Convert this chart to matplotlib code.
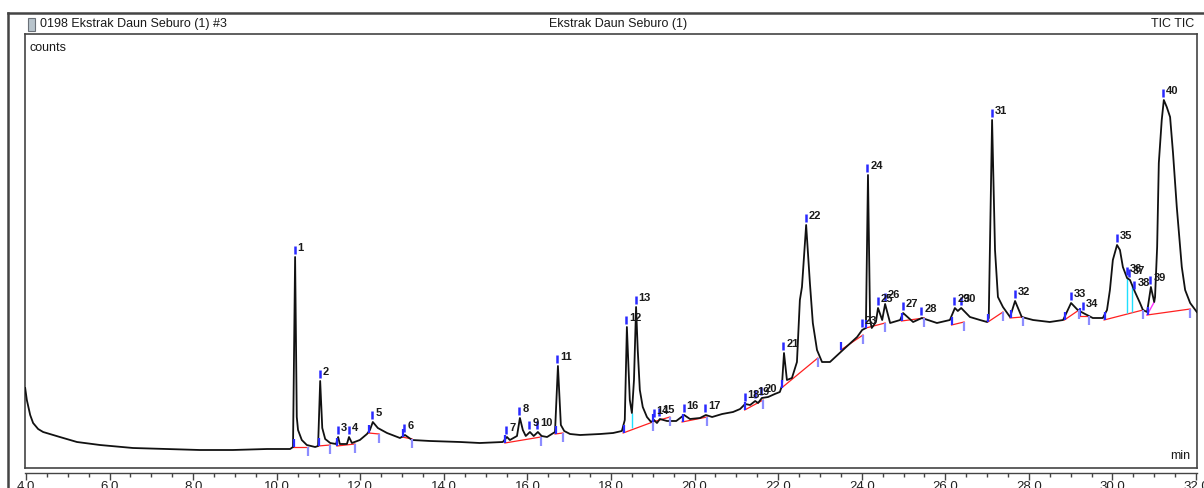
import matplotlib
matplotlib.use("Agg")
import matplotlib.pyplot as plt
from matplotlib.lines import Line2D
from matplotlib.patches import Rectangle

plt.rcParams['font.family'] = ['Liberation Sans', 'DejaVu Sans']

# ---- TIC trace (retention time in min, abundance in counts) ----
trace_t = [3.98, 4.02, 4.10, 4.17, 4.29, 4.41, 4.81, 5.22, 5.77, 6.56, 7.37, 8.16,
           8.95, 9.77, 10.32, 10.39, 10.44, 10.48, 10.51, 10.60, 10.72, 10.92, 10.99,
           11.04, 11.09, 11.16, 11.28, 11.42, 11.47, 11.51, 11.68, 11.73, 11.80, 11.99,
           12.16, 12.23, 12.30, 12.42, 12.64, 12.95, 13.07, 13.24, 13.67, 14.39, 14.86,
           15.41, 15.51, 15.58, 15.75, 15.82, 15.89, 15.96, 16.06, 16.15, 16.25, 16.34,
           16.47, 16.66, 16.73, 16.80, 16.88, 17.02, 17.26, 17.74, 18.05, 18.26, 18.33,
           18.38, 18.45, 18.50, 18.55, 18.60, 18.64, 18.69, 18.76, 18.86, 18.96, 19.03,
           19.10, 19.17, 19.34, 19.56, 19.75, 19.89, 20.13, 20.27, 20.42, 20.66, 20.92,
           21.09, 21.21, 21.33, 21.45, 21.52, 21.61, 21.76, 21.92, 22.04, 22.09, 22.14,
           22.21, 22.33, 22.45, 22.52, 22.57, 22.67, 22.76, 22.83, 22.93, 23.05, 23.24,
           23.55, 23.89, 24.01, 24.10, 24.15, 24.20, 24.24, 24.34, 24.39, 24.49, 24.56,
           24.68, 24.92, 24.99, 25.23, 25.44, 25.80, 26.11, 26.23, 26.30, 26.38, 26.59,
           26.83, 27.00, 27.04, 27.12, 27.19, 27.26, 27.38, 27.55, 27.67, 27.83, 28.10,
           28.50, 28.82, 29.01, 29.17, 29.30, 29.53, 29.77, 29.87, 29.94, 30.01, 30.11,
           30.18, 30.25, 30.35, 30.42, 30.47, 30.54, 30.66, 30.73, 30.83, 30.92, 31.00,
           31.02, 31.07, 31.11, 31.18, 31.23, 31.30, 31.38, 31.45, 31.54, 31.66, 31.74,
           31.86, 32.02]
trace_v = [80, 68, 53, 45, 39, 36, 31, 26, 23, 20, 19, 18,
           18, 19, 19, 21, 211, 51, 38, 28, 23, 21, 22,
           87, 40, 29, 25, 24, 31, 24, 24, 31, 25, 28,
           34, 38, 46, 40, 35, 30, 33, 28, 27, 26, 25,
           26, 31, 28, 32, 50, 38, 32, 36, 32, 36, 32,
           31, 36, 102, 43, 37, 34, 33, 34, 35, 37, 48,
           141, 68, 55, 88, 161, 118, 78, 61, 51, 46, 48,
           45, 49, 47, 47, 53, 49, 50, 53, 51, 54, 56,
           59, 64, 63, 67, 65, 70, 71, 74, 76, 82, 115,
           88, 90, 106, 168, 181, 243, 185, 145, 118, 106, 106,
           118, 131, 138, 140, 293, 148, 140, 146, 160, 148, 164,
           145, 148, 155, 146, 150, 145, 148, 160, 157, 160, 151,
           148, 146, 150, 348, 218, 171, 161, 151, 167, 151, 148,
           146, 148, 165, 158, 155, 150, 150, 158, 178, 208, 223,
           218, 201, 190, 188, 183, 176, 165, 158, 156, 181, 166,
           171, 221, 305, 348, 368, 361, 351, 315, 261, 201, 178,
           165, 156]

# ---- integrated peaks: number, apex time, apex counts ----
peak_num = list(range(1, 41))
peak_t = [10.44, 11.04, 11.47, 11.73, 12.30, 13.07, 15.51, 15.82, 16.06, 16.25,
          16.73, 18.38, 18.60, 19.03, 19.17, 19.75, 20.27, 21.21, 21.45, 21.61,
          22.14, 22.67, 24.01, 24.15, 24.39, 24.56, 24.99, 25.44, 26.23, 26.38,
          27.12, 27.67, 29.01, 29.30, 30.11, 30.35, 30.42, 30.54, 30.92, 31.23]
peak_v = [211, 87, 31, 31, 46, 33, 31, 50, 36, 36,
          102, 141, 161, 48, 49, 53, 53, 64, 67, 70,
          115, 243, 138, 293, 160, 164, 155, 150, 160, 160,
          348, 167, 165, 155, 223, 190, 188, 176, 181, 368]

# ---- integration baselines: start (t, v) -> end (t, v) ----
base_t0 = [10.39, 10.99, 11.44, 12.20, 13.00, 15.46, 16.66, 18.29, 19.00, 19.70,
           21.20, 22.08, 23.50, 24.10, 24.95, 26.15, 27.02, 27.55, 28.85, 29.20,
           29.80, 30.83]
base_v0 = [21, 22, 22, 35, 31, 25, 34, 35, 46, 46,
           58, 80, 118, 140, 147, 143, 146, 150, 148, 152,
           148, 153]
base_t1 = [10.75, 11.28, 11.87, 12.45, 13.24, 16.32, 16.85, 19.00, 19.41, 20.30,
           21.64, 22.95, 24.03, 24.56, 25.50, 26.45, 27.38, 27.85, 29.20, 29.45,
           30.73, 31.86]
base_v1 = [21, 23, 24, 34, 29, 31, 35, 46, 51, 51,
           68, 110, 133, 145, 150, 146, 156, 151, 158, 152,
           158, 159]

# perpendicular drops between co-eluting peaks: time, baseline counts, signal counts
drop_t = [18.50, 30.35, 30.47]
drop_lo = [40, 155, 156]
drop_hi = [55, 190, 183]

W, H = 1204, 488
PX_PER_MIN = 1170 / 28.0

fig = plt.figure(figsize=(W / 100, H / 100), dpi=100)

ax = fig.add_axes([25 / W, 1 - 468 / H, 1172 / W, 434 / H])
ax.set_xlim(4 - 1 / PX_PER_MIN, 32 + 1 / PX_PER_MIN)
ax.set_ylim(0, 434)
ax.set_xticks([])
ax.set_yticks([])
for s in ax.spines.values():
    s.set_color('#444444')
    s.set_linewidth(1.2)

# baselines and drop lines
for t0, v0, t1, v1 in zip(base_t0, base_v0, base_t1, base_v1):
    ax.plot([t0, t1], [v0, v1], color='#ff2020', lw=0.9, zorder=2)
ax.plot([base_t0[-1], 31.00], [base_v0[-1], 166], color='#ff30ff', lw=1.0, zorder=2)
ax.vlines(drop_t, drop_lo, drop_hi, color='#20e0ff', lw=1.0, zorder=2)

# chromatogram
ax.plot(trace_t, trace_v, color='#111111', lw=1.3, zorder=3)

# start / end markers of the integrations
dt = 0.5 / PX_PER_MIN
ax.vlines([t + dt for t in base_t0], base_v0, [v + 8 for v in base_v0],
          color='#2a2aff', lw=1.6, zorder=4)
ax.vlines([t for t in base_t1], [v - 9 for v in base_v1], base_v1,
          color='#8c8cff', lw=1.6, zorder=4)

# apex markers and peak numbers
ax.vlines([t - dt for t in peak_t], [v + 3 for v in peak_v], [v + 11 for v in peak_v],
          color='#2a2aff', lw=1.8, zorder=4)
for n, t, v in zip(peak_num, peak_t, peak_v):
    ax.annotate(str(n), (t, v), xytext=(2.5, 9), textcoords='offset pixels',
                ha='left', va='center', fontsize=8, fontweight='bold',
                color='#1a1a1a', zorder=5)

# time axis under the plot frame
axx = fig.add_axes([25 / W, 1 - 473 / H, 1172 / W, 0.002])
axx.set_xlim(ax.get_xlim())
axx.patch.set_visible(False)
for k in ('top', 'left', 'right'):
    axx.spines[k].set_visible(False)
axx.spines['bottom'].set_color('#444444')
axx.spines['bottom'].set_linewidth(1.0)
axx.set_yticks([])
major = [4 + 2 * i for i in range(15)]
axx.set_xticks(major)
axx.set_xticklabels([f"{m:.1f}" for m in major], fontsize=9.5, color='#222222')
axx.set_xticks([4.5 + i for i in range(28)] + [5 + 2 * i for i in range(14)], minor=True)
axx.tick_params(axis='x', which='major', direction='out', length=5, width=1, pad=1, color='#444444')
axx.tick_params(axis='x', which='minor', direction='out', length=3, width=1, color='#444444')

# outer window frame and header row
fig.add_artist(Line2D([8 / W, 8 / W], [1 - 13 / H, 0], color='#444444', lw=1.8))
fig.add_artist(Line2D([8 / W, 1], [1 - 13 / H, 1 - 13 / H], color='#444444', lw=1.8))
fig.add_artist(Rectangle((28 / W, 1 - 31 / H), 7 / W, 13 / H, facecolor='#b8c4cc',
                         edgecolor='#6a7078', lw=0.8))
fig.text(40 / W, 1 - 24 / H, '0198 Ekstrak Daun Seburo (1) #3', ha='left', va='center',
         fontsize=9, color='#1a1a1a')
fig.text(618 / W, 1 - 24 / H, 'Ekstrak Daun Seburo (1)', ha='center', va='center',
         fontsize=9, color='#1a1a1a')
fig.text(1194 / W, 1 - 24 / H, 'TIC TIC', ha='right', va='center',
         fontsize=9, color='#1a1a1a')
fig.text(30 / W, 1 - 48 / H, 'counts', ha='left', va='center', fontsize=9, color='#1a1a1a')
fig.text(1190 / W, 1 - 456 / H, 'min', ha='right', va='center', fontsize=9, color='#1a1a1a')

fig.savefig('out.png', dpi=100)
